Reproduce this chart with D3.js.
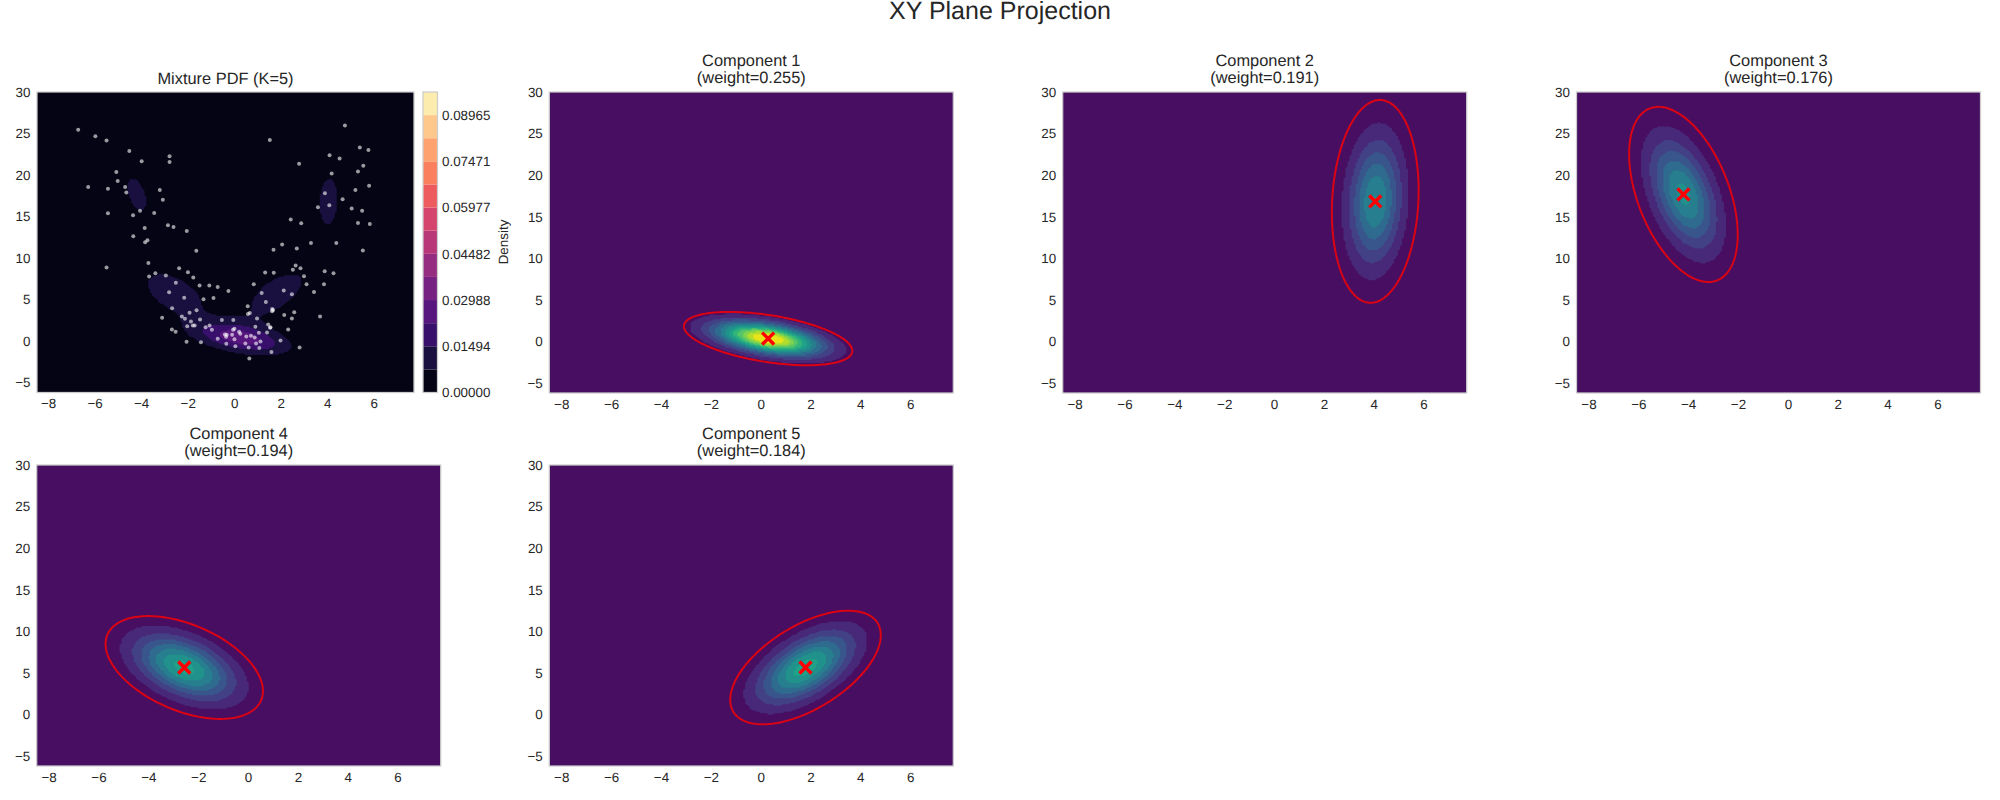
<!DOCTYPE html>
<html>
<head>
<meta charset="utf-8">
<script src="https://cdnjs.cloudflare.com/ajax/libs/d3/7.8.5/d3.min.js"></script>
<style>
body { margin: 0; background: #fff; }
text { font-family: "Liberation Sans", Arial, sans-serif; fill: #262626; text-rendering: geometricPrecision; }
</style>
</head>
<body>
<div id="chart"></div>
<script>
// gaussian components
var weights = [0.255, 0.191, 0.176, 0.194, 0.184];
var meanX = [0.30, 4.06, -4.19, -2.56, 1.80];
var meanY = [0.36, 16.85, 17.69, 5.66, 5.66];
var covXX = [1.904, 0.506, 0.792, 1.664, 1.523];
var covYY = [1.716, 24.8, 18.49, 6.376, 7.784];
var covXY = [-0.83, 0.38, -1.76, -1.49, 1.96];

var xRange = [-8.48, 7.73];
var yRange = [-6.18, 30];
var xTicks = [-8, -6, -4, -2, 0, 2, 4, 6];
var yTicks = [-5, 0, 5, 10, 15, 20, 25, 30];
var levelStep = 0.00747;
var levelCount = 13;
var barTicks = [0, 0.01494, 0.02988, 0.04482, 0.05977, 0.07471, 0.08965];

var samples = [
  [-6.71,25.44],[-5.97,24.68],[-5.49,24.15],[-4.51,22.90],[-3.98,21.65],[-2.78,22.26],[-2.78,21.57],
  [-5.07,20.36],[-5.01,19.27],[-6.28,18.55],[-5.43,18.35],[-4.69,18.55],[-4.64,17.90],[-3.20,18.19],
  [-3.07,17.02],[-5.43,15.40],[-4.35,15.16],[-4.05,15.69],[-3.44,15.44],[-2.85,13.95],[-2.61,13.75],
  [-2.04,13.27],[-3.85,13.63],[-4.34,12.62],[-3.73,12.14],[-3.83,11.90],[-1.63,10.89],[-3.69,9.40],
  [-5.49,8.87],[-2.37,8.79],[-1.99,8.31],[-1.76,7.66],[-3.39,8.19],[-3.66,7.78],[-2.94,7.90],
  [-2.51,7.02],[-2.80,5.89],[-2.15,5.24],[-1.49,6.69],[-1.07,6.69],[-0.71,6.53],[-0.25,6.05],
  [-1.32,5.04],[-0.89,5.20],[-2.67,3.95],[-1.62,3.71],[-1.92,3.43],[-2.25,2.98],[-2.12,2.70],
  [-3.10,2.82],[-1.86,2.38],[-1.47,2.62],[-0.53,2.54],[-0.04,2.54],[-2.02,1.81],[-1.78,1.90],
  [-1.70,1.90],[-2.68,1.41],[-2.52,1.13],[-2.05,-0.08],[-1.43,-0.12],[-1.23,1.69],[-1.06,1.90],
  [-0.96,1.37],[-0.71,0.28],[-0.05,1.37],[0.01,1.49],[0.21,1.13],[0.26,0.89],[-0.09,0.77],
  [-0.32,0.77],[-0.40,0.81],[-0.35,0.52],[0.01,0.24],[0.52,0.56],[0.72,0.65],[0.88,0.44],
  [1.13,-0.04],[0.94,-0.28],[0.48,-0.28],[0.05,-0.60],[-0.34,-0.32],[0.62,-0.77],[1.08,-0.81],
  [0.65,-2.10],[1.60,-1.29],[1.41,1.05],[1.06,1.01],[0.91,1.73],[0.98,2.74],[0.58,4.19],
  [0.67,3.39],[0.59,3.27],[1.46,2.02],[1.54,1.61],[1.56,1.69],[0.84,6.85],[1.18,5.81],
  [1.36,4.72],[1.63,3.87],[1.67,3.75],[1.63,3.59],[2.15,3.15],[2.48,2.74],[2.58,3.47],
  [2.32,1.41],[1.99,0.08],[2.81,-0.77],[2.13,6.09],[2.48,5.65],[3.69,2.98],[3.43,5.93],
  [3.11,6.85],[3.00,7.82],[2.85,8.79],[2.64,9.11],[2.52,8.59],[1.33,8.27],[1.70,8.23],
  [3.89,8.43],[4.27,8.19],[3.86,6.85],[1.69,11.01],[2.06,11.65],[2.69,11.17],[3.30,11.81],
  [4.39,11.81],[2.43,14.64],[2.88,14.19],[3.60,16.13],[3.90,17.82],[4.09,16.37],[4.66,17.10],
  [5.05,15.97],[5.50,15.69],[5.32,14.23],[5.83,14.11],[5.53,10.93],[5.21,18.19],[5.80,18.71],
  [5.32,20.44],[5.55,21.13],[4.19,20.20],[4.53,21.98],[4.10,22.38],[2.79,21.37],[1.53,24.23],
  [4.76,25.97],[5.40,23.31],[5.77,23.02]
];

var gridSize = 200;
var ellipseScale = 2.4477; // 95% ellipse

var svg = d3.select("#chart")
    .append("svg")
    .attr("width", 2000)
    .attr("height", 800)
    .style("display", "block");

svg.append("text")
    .attr("x", 1000)
    .attr("y", 18.5)
    .attr("text-anchor", "middle")
    .attr("font-size", 25)
    .text("XY Plane Projection");

function pdf(c, x, y) {
    var dx = x - meanX[c], dy = y - meanY[c];
    var det = covXX[c] * covYY[c] - covXY[c] * covXY[c];
    var q = (covYY[c] * dx * dx - 2 * covXY[c] * dx * dy + covXX[c] * dy * dy) / det;
    return Math.exp(-q / 2) / (2 * Math.PI * Math.sqrt(det));
}

var cellX = d3.scaleLinear().domain([0, gridSize]).range(xRange);
var cellY = d3.scaleLinear().domain([0, gridSize]).range(yRange);

// same levels on every panel
var levels = d3.range(levelCount).map(function(i) { return i * levelStep; });

function makeGrid(fn) {
    var values = [];
    d3.range(gridSize).forEach(function(j) {
        d3.range(gridSize).forEach(function(i) {
            values.push(fn(cellX(i + 0.5), cellY(j + 0.5)));
        });
    });
    return values;
}

function drawPanel(left, top, width, height, grid, colorFn) {
    var x = d3.scaleLinear().domain(xRange).range([left, left + width]);
    var y = d3.scaleLinear().domain(yRange).range([top + height, top]);

    var path = d3.geoPath(d3.geoTransform({
        point: function(a, b) { this.stream.point(x(cellX(a)), y(cellY(b))); }
    }));
    var contours = d3.contours()
        .size([gridSize, gridSize])
        .smooth(false)
        .thresholds(levels)(grid);

    svg.append("g")
        .selectAll("path")
        .data(contours)
        .enter()
        .append("path")
        .attr("d", path)
        .attr("fill", function(d, i) { return colorFn((i + 0.5) / levelCount); });

    var bottomAxis = d3.axisBottom(x).tickValues(xTicks).tickSize(0).tickPadding(6);
    var leftAxis = d3.axisLeft(y).tickValues(yTicks).tickSize(0).tickPadding(6.5);

    [svg.append("g").attr("transform", "translate(0," + (top + height) + ")").call(bottomAxis),
     svg.append("g").attr("transform", "translate(" + left + ",0)").call(leftAxis)]
        .forEach(function(g) {
            g.attr("font-family", null).attr("font-size", 13.4);
            g.select(".domain").remove();
        });

    return { x: x, y: y, left: left, top: top, width: width, height: height };
}

function drawBorder(p) {
    svg.append("rect")
        .attr("x", p.left)
        .attr("y", p.top)
        .attr("width", p.width)
        .attr("height", p.height)
        .attr("fill", "none")
        .attr("stroke", "#cccccc")
        .attr("stroke-width", 1.25);
}

// mixture panel
var mix = drawPanel(37, 92, 377, 300.5, makeGrid(function(x, y) {
    return d3.sum(weights, function(w, c) { return w * pdf(c, x, y); });
}), d3.interpolateMagma);

svg.append("g")
    .selectAll("circle")
    .data(samples)
    .enter()
    .append("circle")
    .attr("cx", function(d) { return mix.x(d[0]); })
    .attr("cy", function(d) { return mix.y(d[1]); })
    .attr("r", 2)
    .attr("fill", "white")
    .attr("fill-opacity", 0.6);

drawBorder(mix);

svg.append("text")
    .attr("x", 225.5)
    .attr("y", 83.5)
    .attr("text-anchor", "middle")
    .attr("font-size", 16.4)
    .text("Mixture PDF (K=5)");

// colorbar
var barY = d3.scaleLinear().domain([0, levelStep * levelCount]).range([392.5, 92]);

svg.append("g")
    .selectAll("rect")
    .data(levels)
    .enter()
    .append("rect")
    .attr("x", 423)
    .attr("width", 14.5)
    .attr("y", function(d) { return barY(d + levelStep); })
    .attr("height", function(d) { return barY(d) - barY(d + levelStep); })
    .attr("fill", function(d, i) { return d3.interpolateMagma((i + 0.5) / levelCount); });

svg.append("rect")
    .attr("x", 423)
    .attr("y", 92)
    .attr("width", 14.5)
    .attr("height", 300.5)
    .attr("fill", "none")
    .attr("stroke", "#cccccc")
    .attr("stroke-width", 1.25);

var barAxis = svg.append("g")
    .attr("transform", "translate(437.5,0)")
    .call(d3.axisRight(barY).tickValues(barTicks).tickSize(0).tickPadding(4.5).tickFormat(d3.format(".5f")));
barAxis.attr("font-family", null).attr("font-size", 13.4);
barAxis.select(".domain").remove();

svg.append("text")
    .attr("transform", "translate(508,242) rotate(-90)")
    .attr("text-anchor", "middle")
    .attr("font-size", 13.4)
    .text("Density");

// one panel per component
var slots = [[549.3, 92], [1062.7, 92], [1576.5, 92], [36.7, 465], [549.3, 465]];

weights.forEach(function(w, c) {
    var p = drawPanel(slots[c][0], slots[c][1], 404, 301, makeGrid(function(x, y) {
        return pdf(c, x, y);
    }), d3.interpolateViridis);

    // cholesky of the covariance for the ellipse outline
    var a = Math.sqrt(covXX[c]);
    var b = covXY[c] / a;
    var e = Math.sqrt(covYY[c] - b * b);
    var outline = d3.line()
        .x(function(t) { return p.x(meanX[c] + ellipseScale * a * Math.cos(t)); })
        .y(function(t) { return p.y(meanY[c] + ellipseScale * (b * Math.cos(t) + e * Math.sin(t))); })
        .curve(d3.curveLinearClosed);

    svg.append("path")
        .attr("d", outline(d3.range(0, 360, 2).map(function(t) { return t * Math.PI / 180; })))
        .attr("fill", "none")
        .attr("stroke", "red")
        .attr("stroke-opacity", 0.8)
        .attr("stroke-width", 2);

    svg.append("path")
        .attr("d", d3.symbol().type(d3.symbolTimes).size(95)())
        .attr("transform", "translate(" + p.x(meanX[c]) + "," + p.y(meanY[c]) + ")")
        .attr("fill", "none")
        .attr("stroke", "red")
        .attr("stroke-width", 3.4);

    drawBorder(p);

    var title = svg.append("text")
        .attr("text-anchor", "middle")
        .attr("font-size", 16.4);
    title.append("tspan")
        .attr("x", p.left + p.width / 2)
        .attr("y", p.top - 26.5)
        .text("Component " + (c + 1));
    title.append("tspan")
        .attr("x", p.left + p.width / 2)
        .attr("y", p.top - 9.2)
        .text("(weight=" + w.toFixed(3) + ")");
});
</script>
</body>
</html>
